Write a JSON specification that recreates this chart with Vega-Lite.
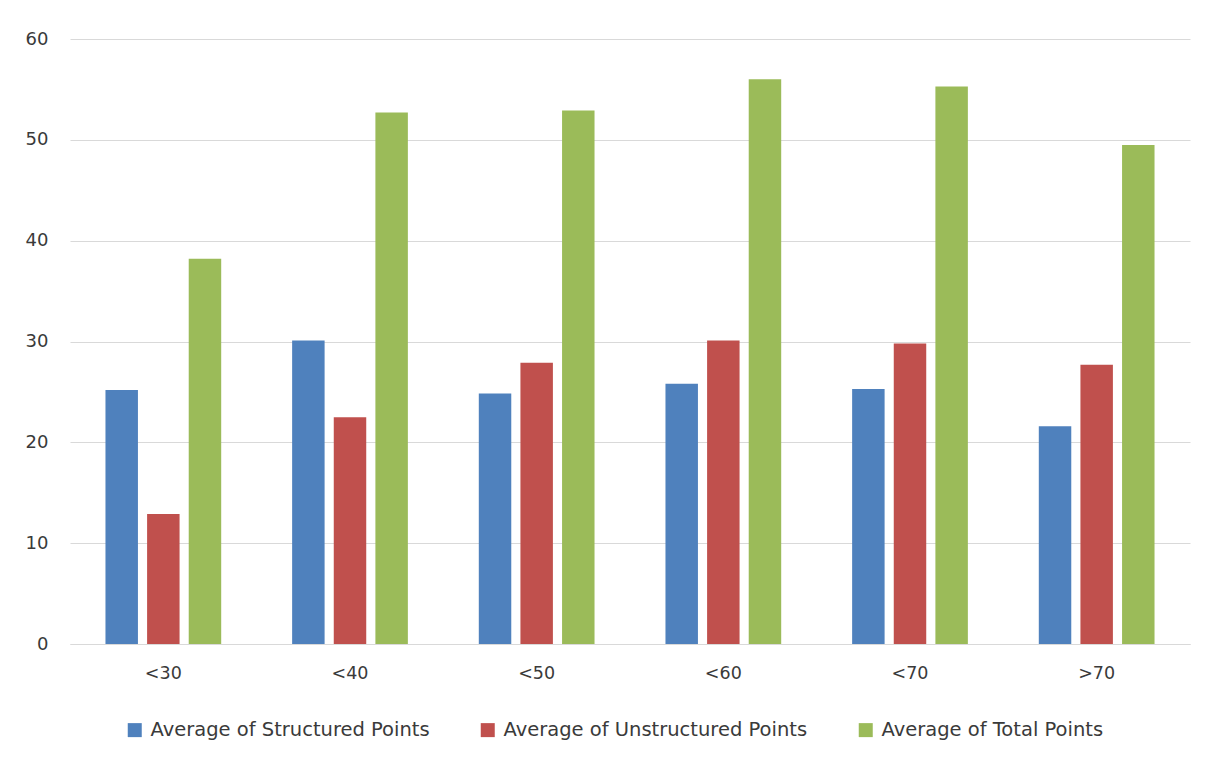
{
  "$schema": "https://vega.github.io/schema/vega-lite/v6.json",
  "width": 1120,
  "height": 605,
  "autosize": "none",
  "padding": {"left": 70, "top": 39, "right": 23, "bottom": 114},
  "background": "white",
  "config": {
    "view": {"stroke": null},
    "font": "DejaVu Sans"
  },
  "data": {
    "values": [
      {"group": "<30", "series": "Average of Structured Points", "value": 25.2},
      {"group": "<30", "series": "Average of Unstructured Points", "value": 12.9},
      {"group": "<30", "series": "Average of Total Points", "value": 38.2},
      {"group": "<40", "series": "Average of Structured Points", "value": 30.1},
      {"group": "<40", "series": "Average of Unstructured Points", "value": 22.5},
      {"group": "<40", "series": "Average of Total Points", "value": 52.7},
      {"group": "<50", "series": "Average of Structured Points", "value": 24.85},
      {"group": "<50", "series": "Average of Unstructured Points", "value": 27.9},
      {"group": "<50", "series": "Average of Total Points", "value": 52.9},
      {"group": "<60", "series": "Average of Structured Points", "value": 25.8},
      {"group": "<60", "series": "Average of Unstructured Points", "value": 30.1},
      {"group": "<60", "series": "Average of Total Points", "value": 56.0},
      {"group": "<70", "series": "Average of Structured Points", "value": 25.3},
      {"group": "<70", "series": "Average of Unstructured Points", "value": 29.8},
      {"group": "<70", "series": "Average of Total Points", "value": 55.3},
      {"group": ">70", "series": "Average of Structured Points", "value": 21.6},
      {"group": ">70", "series": "Average of Unstructured Points", "value": 27.7},
      {"group": ">70", "series": "Average of Total Points", "value": 49.5}
    ]
  },
  "mark": {"type": "bar"},
  "encoding": {
    "x": {
      "field": "group",
      "type": "nominal",
      "sort": ["<30", "<40", "<50", "<60", "<70", ">70"],
      "scale": {"paddingInner": 0.38, "paddingOuter": 0.19},
      "axis": {
        "title": null,
        "labelAngle": 0,
        "ticks": false,
        "domainColor": "#d9d9d9",
        "domainWidth": 1,
        "labelFontSize": 17.5,
        "labelColor": "#3a3a3a",
        "labelPadding": 20
      }
    },
    "xOffset": {
      "field": "series",
      "type": "nominal",
      "sort": ["Average of Structured Points", "Average of Unstructured Points", "Average of Total Points"],
      "scale": {"paddingInner": 0.22}
    },
    "y": {
      "field": "value",
      "type": "quantitative",
      "scale": {"domain": [0, 60]},
      "axis": {
        "title": null,
        "values": [0, 10, 20, 30, 40, 50, 60],
        "domain": false,
        "ticks": false,
        "gridColor": "#d9d9d9",
        "gridWidth": 1,
        "labelFontSize": 18,
        "labelColor": "#3a3a3a",
        "labelPadding": 22
      }
    },
    "color": {
      "field": "series",
      "type": "nominal",
      "sort": ["Average of Structured Points", "Average of Unstructured Points", "Average of Total Points"],
      "scale": {
        "domain": ["Average of Structured Points", "Average of Unstructured Points", "Average of Total Points"],
        "range": ["#4F81BD", "#C0504D", "#9BBB59"]
      },
      "legend": {
        "title": null,
        "orient": "none",
        "direction": "horizontal",
        "legendX": 55,
        "legendY": 681,
        "symbolType": "square",
        "symbolSize": 196,
        "symbolStrokeWidth": 0,
        "labelFontSize": 19.5,
        "labelLimit": 600,
        "labelColor": "#3a3a3a",
        "labelOffset": 6,
        "columnPadding": 48
      }
    }
  }
}
